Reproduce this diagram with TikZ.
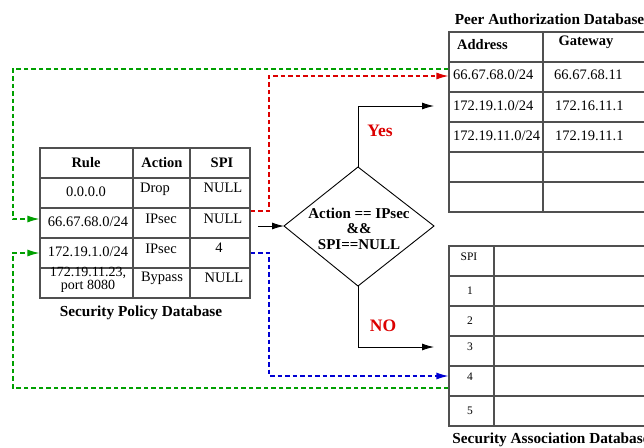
\documentclass[tikz,border=0pt]{standalone}
\usepackage{fontspec}
\setmainfont{Liberation Serif}
\usetikzlibrary{arrows.meta,calc}
\definecolor{mygreen}{RGB}{0,160,0}
\definecolor{myred}{RGB}{220,0,0}
\definecolor{myblue}{RGB}{0,0,210}
\definecolor{gridgray}{RGB}{80,80,80}
\tikzset{
  every node/.style={inner sep=0pt, font=\fontsize{14.5}{16}\selectfont},
  tbl/.style={draw=gridgray, line width=1.1pt, rectangle},
  gridline/.style={draw=gridgray, line width=1.1pt},
  hdr/.style={font=\fontsize{14.5}{16}\selectfont\bfseries},
  smalltext/.style={font=\fontsize{11.5}{13}\selectfont},
  captext/.style={font=\fontsize{15.3}{17}\selectfont\bfseries},
  yn/.style={text=myred, font=\fontsize{17.5}{20}\selectfont\bfseries},
  flow/.style={draw=black, line width=0.9pt, -{Latex[length=12pt,width=7pt]}},
  dlink/.style={line width=1.2pt, dash pattern=on 4.5pt off 3pt, -{Latex[length=12pt,width=7pt]}}
}
\begin{document}
\begin{tikzpicture}[x=1pt,y=-1pt]
\useasboundingbox (0,0) rectangle (644,447);

% ---------- Security Policy Database ----------
\node[tbl, minimum width=210pt, minimum height=150pt] (spd) at (145,223) {};
\foreach \yy in {178,208,238,268} \draw[gridline] (40,\yy) -- (250,\yy);
\foreach \xx in {133,190} \draw[gridline] (\xx,148) -- (\xx,298);
\node[hdr] (h1) at (86,163) {Rule};
\node[hdr] (h2) at (162,163) {Action};
\node[hdr] (h3) at (222,163) {SPI};
\node (a1) at (86,192) {0.0.0.0};
\node (b1) at (155,189) {Drop};
\node (c1) at (223,188) {NULL};
\node (a2) at (88,222) {66.67.68.0/24};
\node (b2) at (161,219) {IPsec};
\node (c2) at (223,219) {NULL};
\node (a3) at (88,252) {172.19.1.0/24};
\node (b3) at (161,249) {IPsec};
\node (c3) at (219,248) {4};
\node[align=center, font=\fontsize{14}{12.5}\selectfont] (a4) at (88,280) {172.19.11.23,\\port 8080};
\node (b4) at (162,278) {Bypass};
\node (c4) at (224,278) {NULL};
\node[captext] (spdcap) at (141,313) {Security Policy Database};

% ---------- Peer Authorization Database ----------
\node[tbl, minimum width=220pt, minimum height=180pt] (pad) at (559,122) {};
\foreach \yy in {62,92,122,152,182} \draw[gridline] (449,\yy) -- (669,\yy);
\draw[gridline] (543,32) -- (543,212);
\node[captext] (padcap) at (549.5,19) {Peer Authorization Database};
\node[hdr, anchor=west] (pa0) at (457,45) {Address};
\node[hdr] (pg0) at (586,42) {Gateway};
\node[anchor=west] (pa1) at (453,75) {66.67.68.0/24};
\node[anchor=west] (pg1) at (554,75) {66.67.68.11};
\node[anchor=west] (pa2) at (453,106) {172.19.1.0/24};
\node[anchor=west] (pg2) at (555,106) {172.16.11.1};
\node[anchor=west] (pa3) at (453,136) {172.19.11.0/24};
\node[anchor=west] (pg3) at (555,136) {172.19.11.1};

% ---------- Security Association Database ----------
\node[tbl, minimum width=220pt, minimum height=180pt] (sad) at (559,336) {};
\foreach \yy in {276,306,336,366,396} \draw[gridline] (449,\yy) -- (669,\yy);
\draw[gridline] (494,246) -- (494,426);
\node[smalltext] (s0) at (469,257) {SPI};
\node[smalltext] (s1) at (470,291) {1};
\node[smalltext] (s2) at (470,321) {2};
\node[smalltext] (s3) at (470,347) {3};
\node[smalltext] (s4) at (470,377) {4};
\node[smalltext] (s5) at (470,411) {5};
\node[captext] (sadcap) at (551,440) {Security Association Database};

% ---------- Decision diamond ----------
\coordinate (dtop) at (358,167);
\coordinate (dright) at (434,226);
\coordinate (dbot) at (358,286);
\coordinate (dleft) at (284,226);
\draw[line width=0.9pt] (dtop) -- (dright) -- (dbot) -- (dleft) -- cycle;
\node[align=center, font=\fontsize{15}{15.5}\selectfont\bfseries] (dia) at (359,228.5) {Action == IPsec\\\&\&\\SPI==NULL};

% ---------- Flow arrows ----------
\coordinate (inflow) at (258,226);
\draw[flow] (inflow) -- (dleft);
\coordinate (yesend) at (434,106);
\coordinate (noend) at (434,347);
\draw[flow] (dtop) |- (yesend);
\draw[flow] (dbot) |- (noend);
\node[yn] (yes) at (380,131) {Yes};
\node[yn] (no) at (383,326) {NO};

% ---------- Dashed links ----------
\coordinate (redstart) at (spd.east |- 0,211);
\coordinate (redend) at (pad.west |- 0,76);
\draw[dlink, draw=myred] (redstart) -- (269,211) -- (269,76) -- (redend);

\coordinate (bluestart) at (spd.east |- 0,253);
\coordinate (blueend) at (sad.west |- 0,376);
\draw[dlink, draw=myblue] (bluestart) -- (269,253) -- (269,376) -- (blueend);

\coordinate (g1start) at (pad.west |- 0,69);
\coordinate (g1end) at (spd.west |- 0,219);
\draw[dlink, draw=mygreen] (g1start) -- (13,69) -- (13,219) -- (g1end);

\coordinate (g2start) at (sad.west |- 0,388);
\coordinate (g2end) at (spd.west |- 0,253);
\draw[dlink, draw=mygreen] (g2start) -- (13,388) -- (13,253) -- (g2end);
\end{tikzpicture}
\end{document}
